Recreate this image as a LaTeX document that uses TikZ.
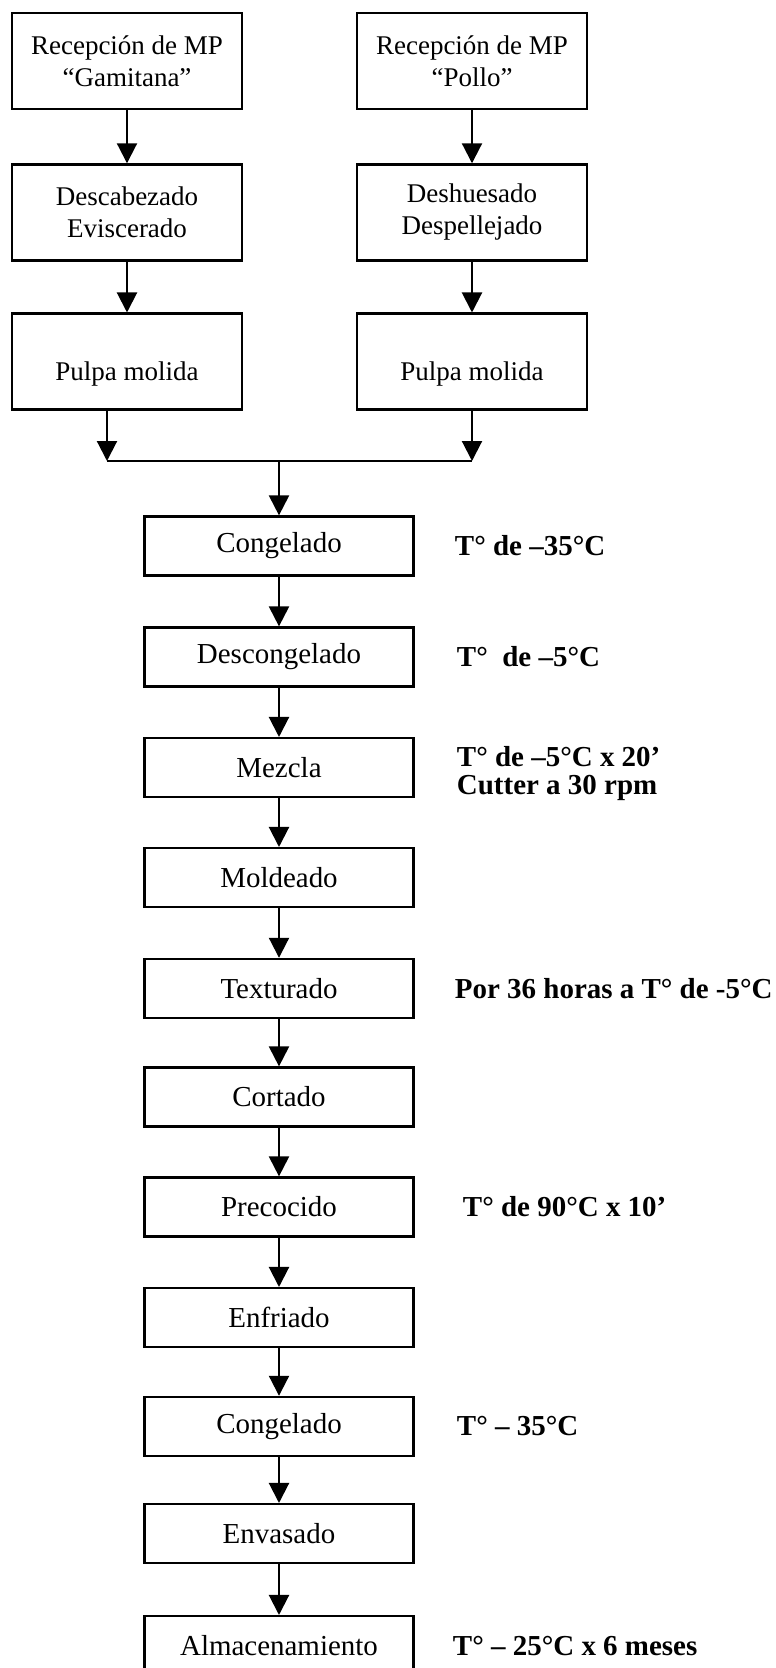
\documentclass[tikz,border=0pt]{standalone}
\usepackage{fontspec}
\setmainfont{Liberation Serif}
\usetikzlibrary{positioning,arrows.meta}

\begin{document}
\begin{tikzpicture}[
    >={Triangle[length=0.5cm,width=0.5cm]},
    srcbox/.style={
        draw=black,
        line width=1.6pt,
        minimum width=5.75cm,
        minimum height=2.4cm,
        align=center,
        font=\fontsize{19.2}{22.8}\selectfont,
    },
    stepbox/.style={
        draw=black,
        line width=1.6pt,
        minimum width=6.725cm,
        minimum height=1.475cm,
        font=\fontsize{20.6}{24}\selectfont,
    },
    cond/.style={
        anchor=west,
        align=left,
        font=\fontsize{20.6}{19.9}\selectfont\bfseries,
    },
    arr/.style={->,line width=1.5pt},
    joinline/.style={line width=1.5pt},
]

\clip (0,0) rectangle (19.4,-41.7);

% === Two raw materials ===
\node[srcbox] (recA) at (3.175,-1.525) {Recepción de MP\\“Gamitana”};
\node[srcbox] (recB) at (11.8,-1.525) {Recepción de MP\\“Pollo”};

\node[srcbox] (prepA) at (3.175,-5.31) {Descabezado\\Eviscerado};
\node[srcbox] (prepB) at (11.8,-5.31) {Deshuesado\\Despellejado};

\node[srcbox,text height=1.1cm,text depth=0.15cm] (pulpA) at (3.175,-9.04) {Pulpa molida};
\node[srcbox,text height=1.1cm,text depth=0.15cm] (pulpB) at (11.8,-9.04) {Pulpa molida};

\coordinate (joinL) at (2.675,-11.525);
\coordinate (joinR) at (11.8,-11.525);

% === Main line ===
\node[stepbox] (congel1) at (6.975,-13.65) {Congelado};
\node[stepbox] (descong) at (6.975,-16.425) {Descongelado};
\node[stepbox] (mezcla) at (6.975,-19.19) {Mezcla};
\node[stepbox] (moldeado) at (6.975,-21.94) {Moldeado};
\node[stepbox] (texturado) at (6.975,-24.71) {Texturado};
\node[stepbox] (cortado) at (6.975,-27.425) {Cortado};
\node[stepbox] (precocido) at (6.975,-30.175) {Precocido};
\node[stepbox] (enfriado) at (6.975,-32.94) {Enfriado};
\node[stepbox] (congel2) at (6.975,-35.66) {Congelado};
\node[stepbox] (envasado) at (6.975,-38.34) {Envasado};
\node[stepbox] (almacen) at (6.975,-41.14) {Almacenamiento};

% === Conditions ===
\node[cond] (tCongel1) at (11.25,-13.65) {T° de –35°C};
\node[cond] (tDescong) at (11.3,-16.425) {T°~~de –5°C};
\node[cond] (tMezcla) at (11.3,-19.34) {T° de –5°C x 20’\\Cutter a 30 rpm};
\node[cond] (tTextur) at (11.25,-24.71) {Por 36 horas a T° de -5°C};
\node[cond] (tPrecoc) at (11.45,-30.175) {T° de 90°C x 10’};
\node[cond] (tCongel2) at (11.3,-35.66) {T° – 35°C};
\node[cond] (tAlmacen) at (11.2,-41.14) {T° – 25°C x 6 meses};

% === Arrows: branches ===
\draw[arr] (recA) -- (prepA);
\draw[arr] (recB) -- (prepB);
\draw[arr] (prepA) -- (pulpA);
\draw[arr] (prepB) -- (pulpB);

\draw[arr] (pulpA.south -| joinL) -- (joinL);
\draw[arr] (pulpB) -- (joinR);
\draw[joinline] (joinL) -- (joinR);
\draw[arr] (joinL -| congel1.north) -- (congel1.north);

% === Arrows: main line ===
\draw[arr] (congel1) -- (descong);
\draw[arr] (descong) -- (mezcla);
\draw[arr] (mezcla) -- (moldeado);
\draw[arr] (moldeado) -- (texturado);
\draw[arr] (texturado) -- (cortado);
\draw[arr] (cortado) -- (precocido);
\draw[arr] (precocido) -- (enfriado);
\draw[arr] (enfriado) -- (congel2);
\draw[arr] (congel2) -- (envasado);
\draw[arr] (envasado) -- (almacen);

\end{tikzpicture}
\end{document}
